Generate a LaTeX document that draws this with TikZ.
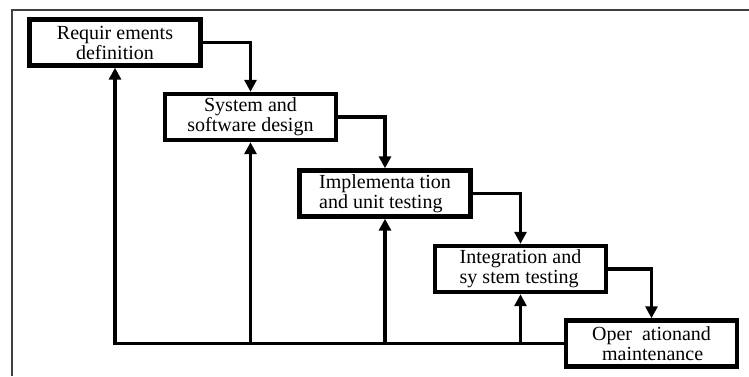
\documentclass[tikz,border=0pt]{standalone}
\usepackage{fontspec}
\setmainfont{Liberation Serif}
\usetikzlibrary{arrows.meta, positioning}

\tikzset{
    phase/.style={draw, line width=2.2pt, minimum width=85.5pt, minimum height=23pt,
        inner sep=1pt, font=\fontsize{10}{10}\selectfont},
    flow/.style={line width=1.6pt, -{Triangle[length=6pt,width=6pt]}},
}

\begin{document}
\begin{tikzpicture}[x=0.5pt,y=-0.5pt]
\useasboundingbox (0,0) rectangle (749,376);

% Outer frame (only top and left edges show)
\draw[line width=1pt, black!75] (749,10) -- (12,10) -- (12,376);

% Phases
\node[phase, align=center] (req) at (115,42.5) {Requir ements\\definition};
\node[phase, align=center] (sysdes) at (250.5,117) {System and\\software design};
\node[phase, align=left] (impl) at (385,193.5) {Implementa tion\\and unit testing};
\node[phase, align=left] (integ) at (520.5,269) {Integration and\\sy stem testing};
\node[phase, align=left] (oper) at (651.5,343.5) {Oper\ \ ationand\\\ \ maintenance};

% Cascade down to the next phase
\draw[flow] (req.east) -| (sysdes.north);
\draw[flow] (sysdes.east) -| (impl.north);
\draw[flow] (impl.east) -| (integ.north);
\draw[flow] (integ.east) -| (oper.north);

% Feedback back up to earlier phases
\draw[flow] (oper.west) -| (req.south);
\foreach \n in {sysdes,impl,integ}
{
    \draw[flow] (oper.west -| \n.south) -- (\n.south);
}

\end{tikzpicture}
\end{document}
